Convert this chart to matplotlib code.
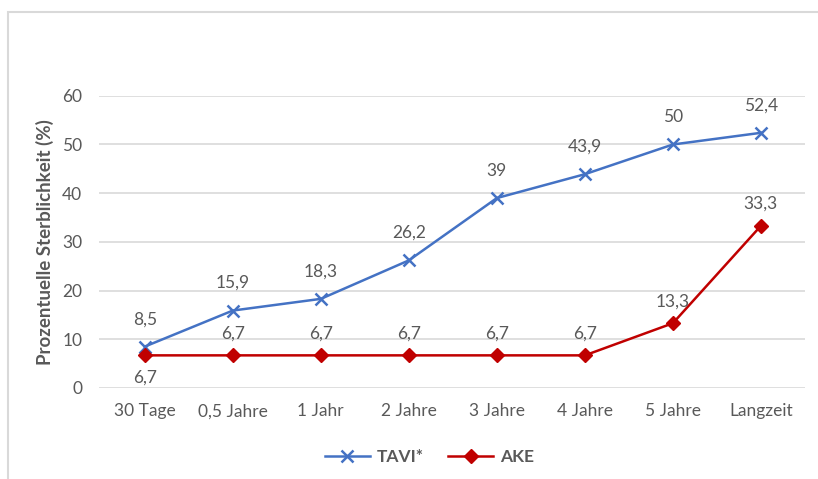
import matplotlib.pyplot as plt
from matplotlib.lines import Line2D
from matplotlib.patches import Rectangle

categories = ['30 Tage', '0,5 Jahre', '1 Jahr', '2 Jahre', '3 Jahre', '4 Jahre', '5 Jahre', 'Langzeit']
tavi = [8.5, 15.9, 18.3, 26.2, 39, 43.9, 50, 52.4]
ake = [6.7, 6.7, 6.7, 6.7, 6.7, 6.7, 13.3, 33.3]
yticks = [0, 10, 20, 30, 40, 50, 60]

text_col = '#595959'
blue = '#4472C4'
red = '#C00000'
fs = 12.5

plt.rcParams['font.family'] = ['Lato', 'DejaVu Sans']

fig = plt.figure(figsize=(8.18, 4.79), dpi=100)
ax = fig.add_axes([0.121, 0.19, 0.863, 0.61])

# light frame of the chart area (only left and top edges show)
fig.patches.append(Rectangle((8 / 818, -0.1), 1.2, 1 - 12 / 479 + 0.1, transform=fig.transFigure,
                             fill=False, edgecolor='#D9D9D9', linewidth=1.5))

x = list(range(len(categories)))
ax.plot(x, tavi, color=blue, linewidth=1.8, marker='x', markersize=8, markeredgewidth=1.8, zorder=3)
ax.plot(x, ake, color=red, linewidth=1.8, marker='D', markersize=7, zorder=3)

for i, v in enumerate(tavi):
    ax.annotate(str(v).replace('.', ','), xy=(i, v), xytext=(0, 14), textcoords='offset points',
                ha='center', va='bottom', fontsize=fs, color=text_col)
for i, v in enumerate(ake):
    dy = -10 if i == 0 else 10
    ax.annotate(str(v).replace('.', ','), xy=(i, v), xytext=(0, dy), textcoords='offset points',
                ha='center', va='top' if dy < 0 else 'bottom', fontsize=fs, color=text_col)

ax.set_xlim(-0.52, 7.5)
ax.set_ylim(0, 60)
ax.set_yticks(yticks)
ax.set_xticks(x)
ax.set_xticklabels(categories)
ax.tick_params(length=0, labelsize=fs, colors=text_col, pad=11)
ax.tick_params(axis='y', pad=12)
ax.grid(axis='y', color='#D9D9D9', linewidth=1.2)
ax.set_axisbelow(True)
for s in ax.spines.values():
    s.set_visible(False)

ax.set_ylabel('Prozentuelle Sterblichkeit (%)', fontsize=13.5, fontweight='bold', color=text_col, labelpad=6)

handles = [Line2D([], [], color=blue, linewidth=1.8, marker='x', markersize=8, markeredgewidth=1.8),
           Line2D([], [], color=red, linewidth=1.8, marker='D', markersize=7)]
leg = fig.legend(handles, ['TAVI*', 'AKE'], loc='center', bbox_to_anchor=(0.525, 0.045), ncol=2,
                 frameon=False, handlelength=2.6, columnspacing=1.4, handletextpad=0.4,
                 prop={'weight': 'bold', 'size': fs})
for t in leg.get_texts():
    t.set_color(text_col)

fig.savefig('out.png', dpi=100)
